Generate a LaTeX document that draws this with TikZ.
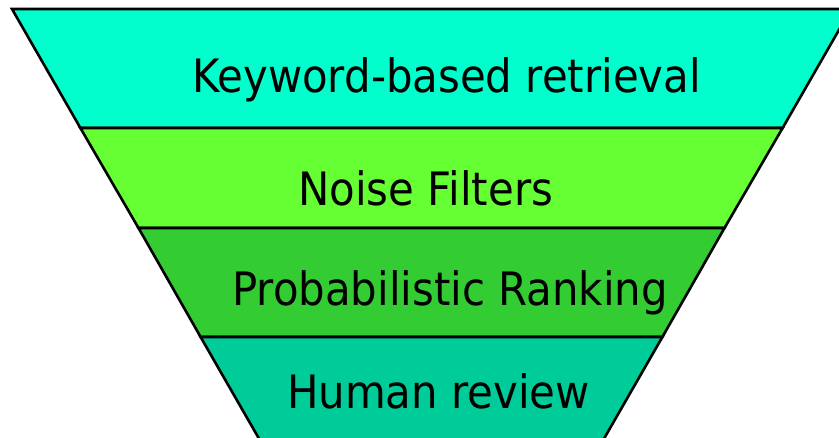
\documentclass[tikz,border=0pt]{standalone}
\usepackage{fontspec}
\setmainfont{DejaVu Sans}
\newfontfamily\funnelfont[FakeStretch=0.91]{DejaVu Sans}
\definecolor{keyband}{HTML}{00FFCC}
\definecolor{noiseband}{HTML}{66FF33}
\definecolor{rankband}{HTML}{33CC33}
\definecolor{humanband}{HTML}{00CC99}
\begin{document}
\begin{tikzpicture}[x=1pt,y=-1pt]
	\tikzset{band/.style={draw=black,line width=2.6pt,line join=miter},
		lbl/.style={anchor=base west,inner sep=0pt,font=\funnelfont\fontsize{46}{52}\selectfont}}
	\useasboundingbox (0,0) rectangle (839,437);
	\clip (0,0) rectangle (839,437);

	% funnel bands, top to bottom
	\draw[band,fill=keyband](12,9)--(851,9)--(782.6,128)--(80.4,128)--cycle;
	\draw[band,fill=noiseband](80.4,128)--(782.6,128)--(724.5,228)--(138.5,228)--cycle;
	\draw[band,fill=rankband](138.5,228)--(724.5,228)--(662.4,337)--(200.6,337)--cycle;
	\draw[band,fill=humanband](200.6,337)--(662.4,337)--(586,470)--(277,470)--cycle;

	% labels
	\node[lbl] (keyword) at (192,92) {Keyword-based retrieval};
	\node[lbl] (noise) at (298,205) {Noise Filters};
	\node[lbl] (ranking) at (232,305) {Probabilistic Ranking};
	\node[lbl] (human) at (287,408) {Human review};
\end{tikzpicture}
\end{document}
